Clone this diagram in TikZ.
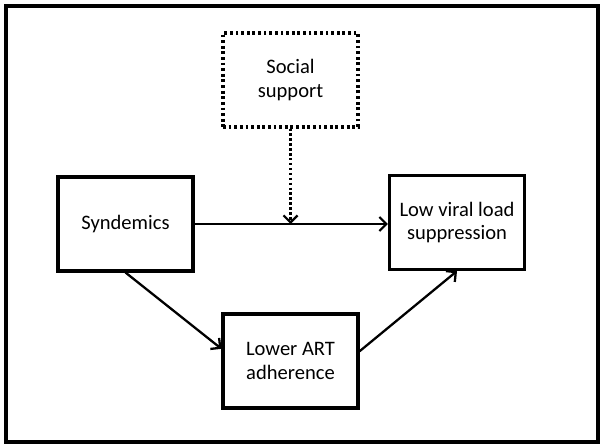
\documentclass[tikz,border=0pt]{standalone}
\usepackage{fontspec}
\setmainfont{Carlito}
\usetikzlibrary{arrows.meta}

\begin{document}
\begin{tikzpicture}[x=0.02cm,y=-0.02cm]
      \tikzstyle{every node}=[font=\fontsize{11.7}{13.6}\selectfont]
      \tikzstyle{varbox}=[draw, line width=1.75pt, minimum width=2.7cm, minimum height=1.88cm, align=center, inner sep=0pt]
      \tikzstyle{link}=[line width=1.3pt, -{Straight Barb[length=4pt,width=8pt]}]
      \useasboundingbox (0,0) rectangle (604,448);
      % Frame
      \draw[line width=1.75pt] (6,6) rectangle (598,442);
      % Boxes
      \node[varbox, dash pattern=on 1.6pt off 1.6pt] (social) at (290.5,80) {Social\\support};
      \node[varbox] (synd) at (125.5,224) {Syndemics};
      \node[varbox] (lowvl) at (457,222.5) {Low viral load\\suppression};
      \node[varbox] (art) at (290.5,361) {Lower ART\\adherence};
      % Paths
      \coordinate (moder) at (290.5,224);
      \draw[link] (synd.east) -- (synd.east -| lowvl.west);
      \draw[link, dash pattern=on 1.4pt off 1.4pt] (social.south) -- (moder);
      \draw[link] (synd.south) -- (art.170);
      \draw[link] (art.8) -- (lowvl.south);
\end{tikzpicture}
\end{document}
